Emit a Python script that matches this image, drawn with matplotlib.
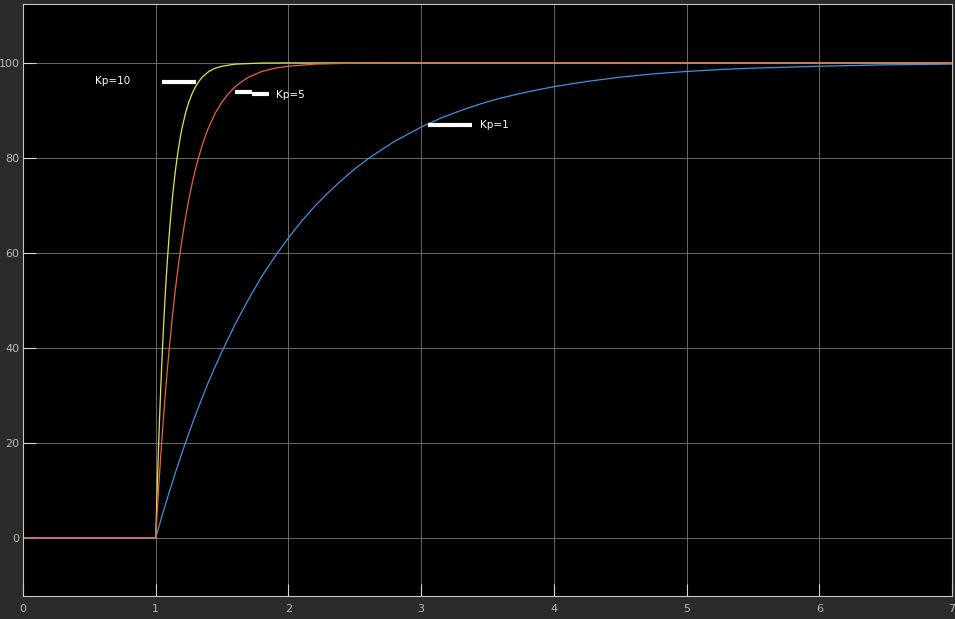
import matplotlib.pyplot as plt

# step responses (step at t = 1)
t_kp1 = [0, 1, 1.05, 1.1, 1.15, 1.2, 1.25, 1.3, 1.35, 1.4, 1.45, 1.5, 1.6, 1.7,
         1.8, 1.9, 2.0, 2.1, 2.2, 2.3, 2.4, 2.5, 2.6, 2.7, 2.8, 2.9, 3.0, 3.15,
         3.3, 3.45, 3.6, 3.8, 4.0, 4.25, 4.5, 4.75, 5.0, 5.25, 5.5, 5.75, 6.0,
         6.5, 7.0]
y_kp1 = [0, 0, 4.9, 9.5, 13.9, 18.1, 22.1, 25.9, 29.5, 33.0, 36.2, 39.3, 45.1,
         50.3, 55.1, 59.3, 63.2, 66.7, 69.9, 72.7, 75.3, 77.7, 79.8, 81.7, 83.5,
         85.0, 86.5, 88.4, 90.0, 91.4, 92.6, 93.9, 95.0, 96.1, 97.0, 97.7, 98.2,
         98.6, 98.9, 99.1, 99.3, 99.6, 99.75]

t_kp5 = [0, 1, 1.0125, 1.025, 1.0375, 1.05, 1.075, 1.1, 1.125, 1.15, 1.175, 1.2,
         1.225, 1.25, 1.275, 1.3, 1.325, 1.35, 1.375, 1.4, 1.45, 1.5, 1.55, 1.6,
         1.65, 1.7, 1.8, 1.9, 2.0, 2.2, 2.5, 3.0, 7.0]
y_kp5 = [0, 0, 6.1, 11.8, 17.1, 22.1, 31.3, 39.3, 46.5, 52.8, 58.3, 63.2, 67.5,
         71.3, 74.7, 77.7, 80.3, 82.6, 84.7, 86.5, 89.5, 91.8, 93.6, 95.0, 96.1,
         97.0, 98.2, 98.9, 99.3, 99.75, 99.95, 100, 100]

t_kp10 = [0, 1, 1.00625, 1.0125, 1.01875, 1.025, 1.0375, 1.05, 1.0625, 1.075,
          1.0875, 1.1, 1.1125, 1.125, 1.1375, 1.15, 1.1625, 1.175, 1.1875, 1.2,
          1.225, 1.25, 1.275, 1.3, 1.325, 1.35, 1.4, 1.45, 1.5, 1.6, 1.8, 2.0, 7.0]
y_kp10 = [0, 0, 6.1, 11.8, 17.1, 22.1, 31.3, 39.3, 46.5, 52.8, 58.3, 63.2, 67.5,
          71.3, 74.7, 77.7, 80.3, 82.6, 84.7, 86.5, 89.5, 91.8, 93.6, 95.0, 96.1,
          97.0, 98.2, 98.9, 99.3, 99.75, 99.97, 100, 100]

xticks = [0, 1, 2, 3, 4, 5, 6, 7]
yticks = [0, 20, 40, 60, 80, 100]

fig = plt.figure(figsize=(9.55, 6.19), dpi=100, facecolor='#2b2b2b')
ax = fig.add_axes([23 / 955, 1 - 596 / 619, 929 / 955, 592 / 619])
ax.set_facecolor('black')

ax.plot(t_kp10, y_kp10, color='#e6e64a', lw=0.9)
ax.plot(t_kp1, y_kp1, color='#3f93dc', lw=0.9)
ax.plot(t_kp5, y_kp5, color='#e8643c', lw=0.9)

ax.set_xlim(0, 7)
ax.set_ylim(-12.2, 112.4)
ax.set_xticks(xticks)
ax.set_yticks(yticks)
ax.grid(True, color='#7a7a7a', lw=0.6)
ax.tick_params(direction='in', length=9, width=0.8, color='#d8d8d8',
               labelcolor='#b8b8b8', labelsize=8, pad=6)
ax.tick_params(axis='y', pad=2.5)
for s in ax.spines.values():
    s.set_color('#c8c8c8')
    s.set_linewidth(0.8)

# hand-drawn labels
ax.plot([1.047, 1.304], [96.0, 96.0], color='white', lw=3, solid_capstyle='butt')
ax.text(0.54, 96.2, 'Kp=10', color='white', fontsize=7.5, va='center')
ax.plot([1.598, 1.726], [93.9, 93.9], color='white', lw=3, solid_capstyle='butt')
ax.plot([1.726, 1.854], [93.5, 93.5], color='white', lw=3, solid_capstyle='butt')
ax.text(1.91, 93.3, 'Kp=5', color='white', fontsize=7.5, va='center')
ax.plot([3.05, 3.38], [86.9, 86.9], color='white', lw=3, solid_capstyle='butt')
ax.text(3.44, 86.9, 'Kp=1', color='white', fontsize=7.5, va='center')

fig.savefig('out.png', dpi=100, facecolor=fig.get_facecolor())
